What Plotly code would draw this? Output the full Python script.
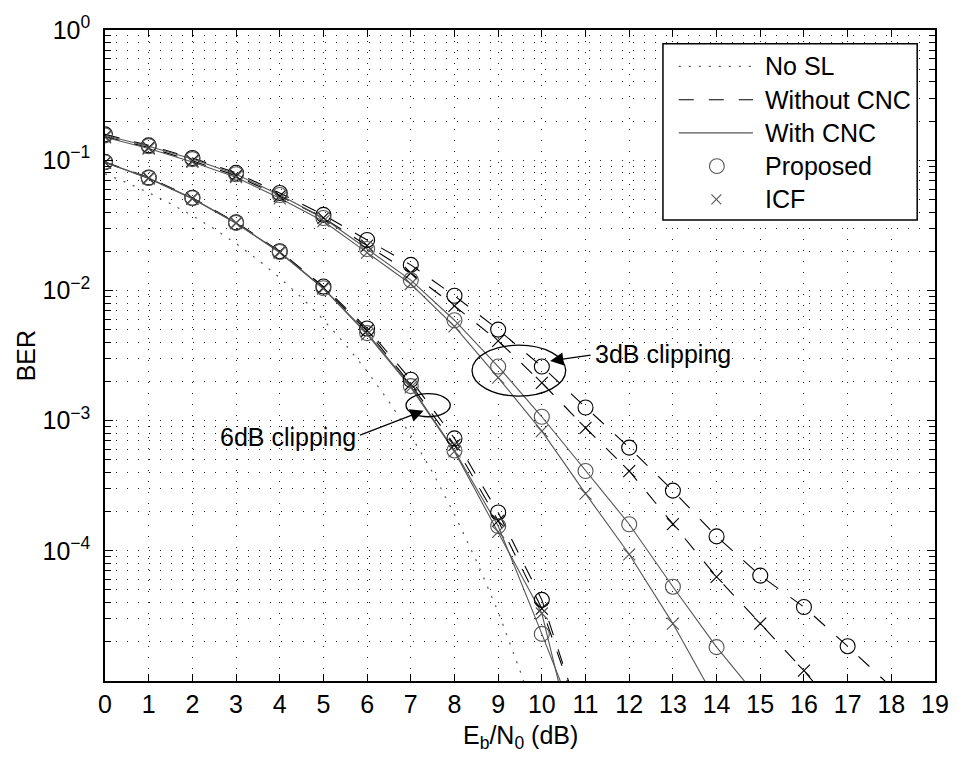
import plotly.graph_objects as go

# ---------------- data ----------------
# Eb/N0 axis values (dB)
snr_nosl = [0, 0.5, 1, 1.5, 2, 2.5, 3, 3.5, 4, 4.5, 5, 5.5, 6, 6.5, 7, 7.5, 8, 8.5, 9, 9.5, 10]
ber_nosl = [0.0786, 0.0671, 0.0563, 0.0464, 0.0375, 0.0297, 0.0229, 0.0172, 0.0125, 0.0088,
            0.00595, 0.00386, 0.00239, 0.00140, 7.7e-4, 4.0e-4, 1.9e-4, 8.4e-5, 3.4e-5, 1.2e-5, 3.9e-6]

# 6 dB clipping
snr_6db = [0, 1, 2, 3, 4, 5, 6, 7, 8, 9, 10]
ber_6db_prop_wo = [0.0970, 0.0735, 0.0515, 0.0333, 0.0200, 0.0107, 0.0051, 0.00206, 7.3e-4, 1.97e-4, 4.2e-5]
ber_6db_icf_wo = [0.0960, 0.0730, 0.0510, 0.0330, 0.0198, 0.0105, 0.0049, 0.00190, 6.5e-4, 1.70e-4, 3.6e-5]
ber_6db_prop_w = [0.0965, 0.0730, 0.0510, 0.0330, 0.0197, 0.0104, 0.0047, 0.00184, 5.9e-4, 1.55e-4, 2.3e-5]
ber_6db_icf_w = [0.0960, 0.0725, 0.0505, 0.0328, 0.0195, 0.0103, 0.0046, 0.00180, 5.8e-4, 1.40e-4, 3.3e-5]

# 3 dB clipping
snr_3db_prop_wo = [0, 1, 2, 3, 4, 5, 6, 7, 8, 9, 10, 11, 12, 13, 14, 15, 16, 17]
ber_3db_prop_wo = [0.158, 0.130, 0.104, 0.080, 0.056, 0.038, 0.0244, 0.0157, 0.0091, 0.0050, 0.0026,
                   0.00126, 6.2e-4, 2.9e-4, 1.29e-4, 6.45e-5, 3.7e-5, 1.85e-5]
snr_3db_icf_wo = [0, 1, 2, 3, 4, 5, 6, 7, 8, 9, 10, 11, 12, 13, 14, 15, 16]
ber_3db_icf_wo = [0.152, 0.125, 0.099, 0.076, 0.053, 0.036, 0.0221, 0.0136, 0.0076, 0.0041, 0.00195,
                  8.8e-4, 4.1e-4, 1.6e-4, 6.3e-5, 2.76e-5, 1.2e-5]
snr_3db_prop_w = [0, 1, 2, 3, 4, 5, 6, 7, 8, 9, 10, 11, 12, 13, 14]
ber_3db_prop_w = [0.155, 0.128, 0.102, 0.078, 0.054, 0.036, 0.0208, 0.0120, 0.0059, 0.0026, 0.00107,
                  4.1e-4, 1.6e-4, 5.3e-5, 1.82e-5]
snr_3db_icf_w = [0, 1, 2, 3, 4, 5, 6, 7, 8, 9, 10, 11, 12, 13]
ber_3db_icf_w = [0.150, 0.123, 0.097, 0.074, 0.051, 0.034, 0.0195, 0.0112, 0.0053, 0.00214, 8.3e-4,
                 2.75e-4, 9.4e-5, 2.76e-5]

# analytic curves continue below the last simulated point
tail_snr_6db = 11
tail_6db_prop_wo = 4.0e-6
tail_6db_icf_wo = 4.0e-6
tail_6db_prop_w = 3.2e-6
tail_6db_icf_w = 1.4e-6
tail_3db_prop_wo = (18, 9.0e-6)
tail_3db_icf_wo = (17, 4.8e-6)
tail_3db_prop_w = (15, 7.1e-6)
tail_3db_icf_w = (14, 6.9e-6)

# axis ticks
x_ticks = list(range(0, 20))
y_major = [1, 1e-1, 1e-2, 1e-3, 1e-4]
y_major_text = ["10<sup>0</sup>", "10<sup>\u22121</sup>", "10<sup>\u22122</sup>",
                "10<sup>\u22123</sup>", "10<sup>\u22124</sup>"]
y_minor = [k * 10.0 ** e for e in range(-5, 0) for k in range(2, 10)]

legend_labels = ["No SL", "Without CNC", "With CNC", "Proposed", "ICF"]

# ---------------- styling ----------------
FONT = "Liberation Sans, Arial, Helvetica, sans-serif"
FS = 25
BLACK = "#000000"
GRAY = "#555555"
DASH = "15px,15px"
DOT = "2px,8px"
GRID_DASH = "1px,10px"

W, H = 961, 759
ML, MR, MT, MB = 105, 17, 20, 78
PW, PH = W - ML - MR, H - MT - MB


def px(x):
    return (x - ML) / PW


def py(y):
    return (H - MB - y) / PH


fig = go.Figure()

# No SL reference curve
fig.add_trace(go.Scatter(x=snr_nosl, y=ber_nosl, mode="lines",
                         line=dict(color=GRAY, width=1.2, dash=DOT), showlegend=False))

curves = [
    (snr_6db, ber_6db_prop_wo, (tail_snr_6db, tail_6db_prop_wo), DASH, BLACK, "circle-open"),
    (snr_6db, ber_6db_icf_wo, (tail_snr_6db, tail_6db_icf_wo), DASH, BLACK, "x-thin-open"),
    (snr_6db, ber_6db_prop_w, (tail_snr_6db, tail_6db_prop_w), "solid", GRAY, "circle-open"),
    (snr_6db, ber_6db_icf_w, (tail_snr_6db, tail_6db_icf_w), "solid", GRAY, "x-thin-open"),
    (snr_3db_prop_wo, ber_3db_prop_wo, tail_3db_prop_wo, DASH, BLACK, "circle-open"),
    (snr_3db_icf_wo, ber_3db_icf_wo, tail_3db_icf_wo, DASH, BLACK, "x-thin-open"),
    (snr_3db_prop_w, ber_3db_prop_w, tail_3db_prop_w, "solid", GRAY, "circle-open"),
    (snr_3db_icf_w, ber_3db_icf_w, tail_3db_icf_w, "solid", GRAY, "x-thin-open"),
]

for snr, ber, tail, dash, color, _ in curves:
    fig.add_trace(go.Scatter(x=list(snr) + [tail[0]], y=list(ber) + [tail[1]], mode="lines",
                             line=dict(color=color, width=1.1, dash=dash), showlegend=False))

for snr, ber, _, _, color, symbol in curves:
    size = 15 if symbol == "circle-open" else 12
    fig.add_trace(go.Scatter(x=snr, y=ber, mode="markers",
                             marker=dict(symbol=symbol, size=size, color=color,
                                         line=dict(color=color, width=1.1)),
                             showlegend=False))

shapes = []
annotations = []

# legend box
shapes.append(dict(type="rect", xref="paper", yref="paper",
                   x0=px(669), x1=px(926), y0=py(213), y1=py(34),
                   line=dict(color=BLACK, width=1.5), fillcolor="white", layer="above"))
rows = [57, 90.75, 124.5, 158.25, 192]
shapes.append(dict(type="line", xref="paper", yref="paper", x0=px(685), x1=px(760),
                   y0=py(rows[0]), y1=py(rows[0]), line=dict(color=GRAY, width=1.2, dash=DOT),
                   layer="above"))
shapes.append(dict(type="line", xref="paper", yref="paper", x0=px(685), x1=px(760),
                   y0=py(rows[1]), y1=py(rows[1]), line=dict(color=BLACK, width=1.1, dash=DASH),
                   layer="above"))
shapes.append(dict(type="line", xref="paper", yref="paper", x0=px(685), x1=px(760),
                   y0=py(rows[2]), y1=py(rows[2]), line=dict(color=GRAY, width=1.1),
                   layer="above"))
shapes.append(dict(type="circle", xref="paper", yref="paper", x0=px(716), x1=px(731),
                   y0=py(rows[3] + 7.5), y1=py(rows[3] - 7.5), line=dict(color=GRAY, width=1.1),
                   layer="above"))
for dx in (-1, 1):
    shapes.append(dict(type="line", xref="paper", yref="paper", x0=px(723 - 5), x1=px(723 + 5),
                       y0=py(rows[4] - 5 * dx), y1=py(rows[4] + 5 * dx),
                       line=dict(color=GRAY, width=1.1), layer="above"))
for label, ry in zip(legend_labels, rows):
    annotations.append(dict(text=label, xref="paper", yref="paper", x=px(770), y=py(ry),
                            xanchor="left", yanchor="middle", showarrow=False,
                            font=dict(family=FONT, size=FS, color=BLACK)))

# clipping-level ellipses
shapes.append(dict(type="circle", xref="paper", yref="paper", x0=px(409.3), x1=px(454),
                   y0=py(412.7), y1=py(389.3), line=dict(color=BLACK, width=1.3), layer="above"))
shapes.append(dict(type="circle", xref="paper", yref="paper", x0=px(476), x1=px(570.7),
                   y0=py(391.7), y1=py(340), line=dict(color=BLACK, width=1.3), layer="above"))

# arrows and their labels
annotations.append(dict(text="", xref="paper", yref="paper", x=px(427), y=py(406.5),
                        ax=-65, ay=25, showarrow=True, arrowhead=2, arrowsize=2.2,
                        arrowwidth=1.2, arrowcolor=BLACK, standoff=0))
annotations.append(dict(text="6dB clipping", xref="paper", yref="paper", x=px(361), y=py(433),
                        xanchor="right", yanchor="middle", showarrow=False,
                        font=dict(family=FONT, size=FS, color=BLACK)))
annotations.append(dict(text="", xref="paper", yref="paper", x=px(555), y=py(356),
                        ax=42, ay=-6, showarrow=True, arrowhead=2, arrowsize=2.2,
                        arrowwidth=1.2, arrowcolor=BLACK, standoff=0))
annotations.append(dict(text="3dB clipping", xref="paper", yref="paper", x=px(598), y=py(349),
                        xanchor="left", yanchor="middle", showarrow=False,
                        font=dict(family=FONT, size=FS, color=BLACK)))

# axis titles
annotations.append(dict(text="E<sub>b</sub>/N<sub>0</sub> (dB)", xref="paper", yref="paper",
                        x=0.5, y=py(738), xanchor="center", yanchor="middle", showarrow=False,
                        font=dict(family=FONT, size=FS, color=BLACK)))
annotations.append(dict(text="BER", xref="paper", yref="paper", x=px(25), y=0.5,
                        xanchor="center", yanchor="middle", textangle=-90, showarrow=False,
                        font=dict(family=FONT, size=FS, color=BLACK)))

fig.update_layout(
    width=W, height=H,
    margin=dict(l=ML, r=MR, t=MT, b=MB, pad=0),
    paper_bgcolor="white", plot_bgcolor="white",
    font=dict(family=FONT, size=FS, color=BLACK),
    showlegend=False,
    shapes=shapes,
    annotations=annotations,
)

fig.update_xaxes(
    range=[0, 19], tickmode="array", tickvals=x_ticks, ticktext=[str(v) for v in x_ticks],
    ticks="inside", ticklen=7, tickwidth=1, tickcolor=BLACK,
    showline=True, linecolor=BLACK, linewidth=1.5, mirror="ticks",
    showgrid=True, gridcolor="#222222", gridwidth=1, griddash=GRID_DASH,
    zeroline=False, ticklabelstandoff=0,
    tickfont=dict(family=FONT, size=FS, color=BLACK),
)

fig.update_yaxes(
    type="log", range=[-5, 0], tickmode="array", tickvals=y_major, ticktext=y_major_text,
    ticks="inside", ticklen=8, tickwidth=1, tickcolor=BLACK,
    showline=True, linecolor=BLACK, linewidth=1.5, mirror="ticks",
    showgrid=True, gridcolor="#222222", gridwidth=1, griddash=GRID_DASH,
    zeroline=False, ticklabelstandoff=8,
    tickfont=dict(family=FONT, size=FS, color=BLACK),
    minor=dict(tickmode="array", tickvals=y_minor, ticks="inside", ticklen=6,
               tickcolor=BLACK, showgrid=True, gridcolor="#222222", gridwidth=1,
               griddash=GRID_DASH),
)

fig.write_html("out.html")
